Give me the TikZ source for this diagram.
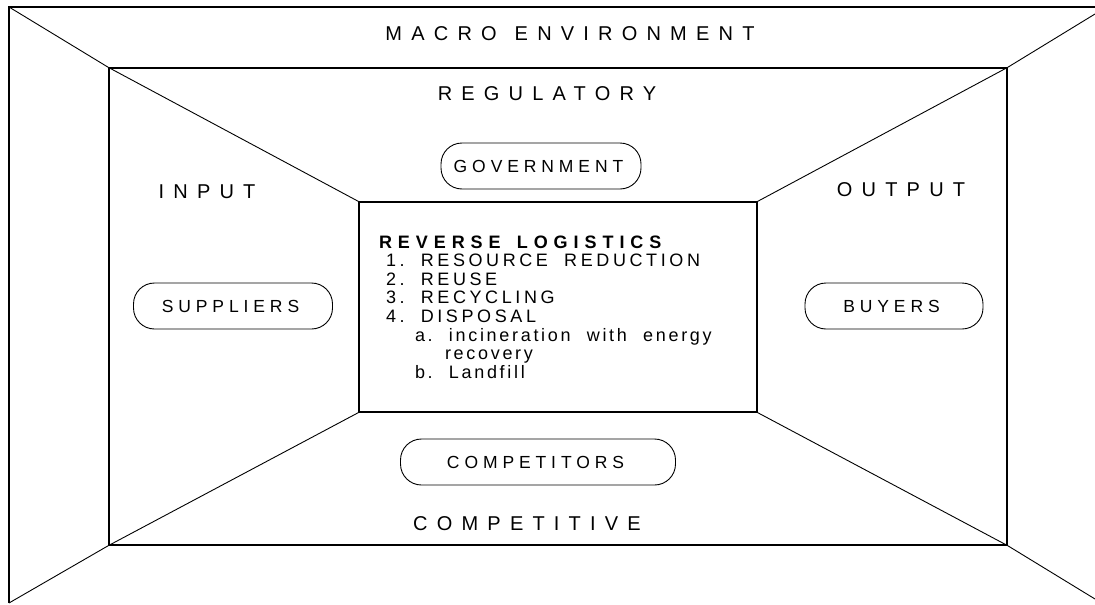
\documentclass[tikz,border=0pt]{standalone}
\usepackage{fontspec}
\setmainfont{Liberation Sans}
\newfontfamily\widefont[LetterSpace=46]{Liberation Sans}
\newfontfamily\spacedfont[LetterSpace=28]{Liberation Sans}
\newfontfamily\listfont[LetterSpace=20]{Liberation Sans}
\newcommand{\wsp}{\hspace{0.9em}}
\newcommand{\lowsp}{\addfontfeature{LetterSpace=15}}

\begin{document}
\begin{tikzpicture}[x=1pt,y=-1pt,
    wall/.style={draw,line width=1.2pt},
    edge/.style={line width=0.9pt},
    zone/.style={font=\widefont\fontsize{20}{22}\selectfont},
    actor/.style={draw,line width=0.9pt,rounded corners=21pt,inner sep=0pt,
      minimum height=46pt,font=\spacedfont\fontsize{17.5}{19}\selectfont}]
    \useasboundingbox (0,0) rectangle (1095,605);

    % the three frames
    \coordinate (otl) at (9,7);
    \coordinate (otr) at (1095,14);
    \coordinate (obl) at (9,603);
    \coordinate (obr) at (1095,599);
    \node[wall,minimum width=898pt,minimum height=477pt] (inner) at (558,306.5) {};
    \node[wall,minimum width=398pt,minimum height=210pt,text width=358pt,
          inner xsep=20pt,inner ysep=0pt,align=left,
          font=\listfont\fontsize{18}{18.6}\selectfont] (box) at (558,307)
        {{\bfseries\addfontfeature{LetterSpace=33}REVERSE\wsp LOGISTICS}\\
         \hspace*{7pt}1.\wsp RESOURCE\wsp REDUCTION\\
         \hspace*{7pt}2.\wsp REUSE\\
         \hspace*{7pt}3.\wsp RECYCLING\\
         \hspace*{7pt}4.\wsp DISPOSAL\\
         \hspace*{36pt}{\lowsp a.\wsp incineration\wsp with\wsp energy}\\
         \hspace*{66pt}{\lowsp recovery}\\
         \hspace*{36pt}{\lowsp b.\wsp Landfill}};
    \draw[wall] (obl) -- (otl) -- (otl -| otr);

    % corners of the room
    \draw[edge] (otl) -- (inner.north west) -- (box.north west);
    \draw[edge] (otr) -- (inner.north east) -- (box.north east);
    \draw[edge] (obl) -- (inner.south west) -- (box.south west);
    \draw[edge] (obr) -- (inner.south east) -- (box.south east);

    % labels of the walls
    \node[zone] (macro) at (570,34) {MACRO\wsp ENVIRONMENT};
    \node[zone] (reg) at (547,94) {REGULATORY};
    \node[zone] (input) at (207,192) {INPUT};
    \node[zone] (output) at (901,190) {OUTPUT};
    \node[zone] (comp) at (527,524) {COMPETITIVE};

    % actors
    \node[actor,minimum width=200pt] (gov) at (541,166) {\hspace*{-5pt}GOVERNMENT};
    \node[actor,minimum width=199pt] (sup) at (233,306) {\hspace*{-5pt}SUPPLIERS};
    \node[actor,minimum width=178pt] (buy) at (894,306) {\hspace*{-5pt}BUYERS};
    \node[actor,minimum width=275pt] (rivals) at (538,462) {\hspace*{-5pt}COMPETITORS};
\end{tikzpicture}
\end{document}
